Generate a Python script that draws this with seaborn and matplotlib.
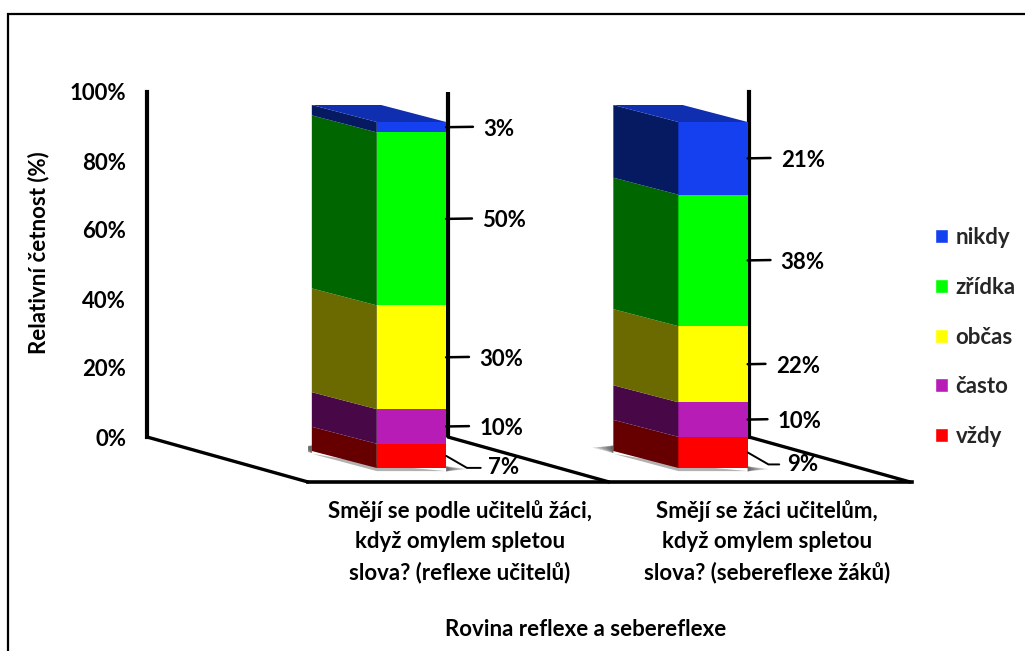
import matplotlib
matplotlib.use('Agg')
import matplotlib.pyplot as plt
import numpy as np
import pandas as pd
import seaborn as sns
from matplotlib.patches import Patch, Rectangle

questions = ['Smějí se podle učitelů žáci,\nkdyž omylem spletou\nslova? (reflexe učitelů)',
             'Smějí se žáci učitelům,\nkdyž omylem spletou\nslova? (sebereflexe žáků)']
levels = ['vždy', 'často', 'občas', 'zřídka', 'nikdy']
ucitele = [7, 10, 30, 50, 3]
zaci = [9, 10, 22, 38, 21]
y_ticks = [0, 20, 40, 60, 80, 100]
front_colors = ['#ff0000', '#b71cb7', '#ffff00', '#00ff00', '#1440f0']
side_colors = ['#660000', '#480848', '#6b6a00', '#006600', '#051a60']
top_color = '#0f2fb0'

# how far each value label sits from the bar, in pixels
label_dx = [[42, 33, 33, 36, 37], [39, 30, 28, 33, 33]]

W, H = 1025, 651
sns.set_theme(style='white')
plt.rcParams['font.family'] = ['Lato', 'DejaVu Sans']
plt.rcParams['font.weight'] = 'bold'
FS = 16


def px_axes(fig, left, top, right, bottom):
    return fig.add_axes([left / W, 1 - bottom / H, (right - left) / W, (bottom - top) / H])


fig = plt.figure(figsize=(W / 100, H / 100), dpi=100)
fig.add_artist(Rectangle((8 / W, -0.01), 1.01, 1 - 14 / H + 0.01, transform=fig.transFigure,
                         fill=False, edgecolor='black', linewidth=1.6))

# back walls, carrying the percent scale
wall = px_axes(fig, 147, 92, 749, 437)
wall.set_xlim(0, 2)
wall.set_ylim(0, 100)
wall.set_xticks([])
wall.set_yticks(y_ticks, [f'{t}%' for t in y_ticks], fontsize=FS, fontweight='bold', color='black')
wall.tick_params(axis='y', length=0, pad=15)
wall.set_ylabel('Relativní četnost (%)', fontsize=FS, fontweight='bold', color='black')
wall.yaxis.set_label_coords(-(147 - 49) / 602, 0.533)
sns.despine(ax=wall, top=True, bottom=True, left=False, right=False)
for side in ['left', 'right']:
    wall.spines[side].set_linewidth(3)
    wall.spines[side].set_color('black')
wall.axvline(1, color='black', linewidth=3)
for x0 in [0, 1, 2]:
    wall.plot([x0, x0 + 0.535], [0, -13.04], color='black', linewidth=2.4, clip_on=False)

# bars on the floor plane
ax = px_axes(fig, 308, 92, 912, 482)
ax.patch.set_alpha(0)
bar_w = 0.23
depth_x, depth_y = -65 / 301.5, 17 / 3.46

df = pd.DataFrame({'question': np.repeat(questions, len(levels)),
                   'level': levels * 2,
                   'value': ucitele + zaci})
df['top'] = df.groupby('question', sort=False)['value'].cumsum()
df['bottom'] = df['top'] - df['value']

for i in range(len(questions)):
    left = i - bar_w / 2
    right = i + bar_w / 2
    back = left + depth_x
    # soft shadow around the foot of the bar
    for grow in [0.07, 0.055, 0.04, 0.025, 0.012]:
        ax.fill([back - grow, back, back], [depth_y + 1.0, depth_y + 1.6, depth_y - 0.6],
                color='black', alpha=0.16, linewidth=0, zorder=1)
        ax.fill([right, right + grow, right], [0.5, -0.3, -1.0],
                color='black', alpha=0.16, linewidth=0, zorder=1)
    ax.fill([back, left, right, left], [depth_y - 0.8, -0.9, -0.9, 1], color='black', alpha=0.3,
            linewidth=0, zorder=1)

for lev, col in zip(reversed(levels), reversed(front_colors)):
    sns.barplot(data=df[df['level'] == lev], x='question', y='top', order=questions, color=col,
                saturation=1, width=bar_w, linewidth=0, ax=ax, zorder=3)

for i, q in enumerate(questions):
    rows = df[df['question'] == q]
    left = i - bar_w / 2
    right = i + bar_w / 2
    for b, t, col in zip(rows['bottom'], rows['top'], side_colors):
        ax.fill([left, left + depth_x, left + depth_x, left], [b, b + depth_y, t + depth_y, t],
                color=col, linewidth=0, zorder=3)
    t = rows['top'].iloc[-1]
    ax.fill([left, left + depth_x, right + depth_x, right], [t, t + depth_y, t + depth_y, t],
            color=top_color, linewidth=0, zorder=3)

    # value labels with leader lines
    for j, (b, v) in enumerate(zip(rows['bottom'], rows['value'])):
        mid = b + v / 2
        if j == 0:
            ax.annotate(f'{v}%', xy=(right, mid), xytext=(label_dx[i][j], -12), textcoords='offset pixels',
                        fontsize=FS, fontweight='bold', va='center', ha='left', color='black',
                        arrowprops=dict(arrowstyle='-', color='black', linewidth=1.4, shrinkA=3, shrinkB=0,
                                        relpos=(0, 0.5),
                                        connectionstyle='angle,angleA=0,angleB=-30,rad=0'), zorder=5)
        else:
            ax.annotate(f'{v}%', xy=(right, mid), xytext=(label_dx[i][j], -2), textcoords='offset pixels',
                        fontsize=FS, fontweight='bold', va='center', ha='left', color='black',
                        arrowprops=dict(arrowstyle='-', color='black', linewidth=1.8, shrinkA=5, shrinkB=0,
                                        relpos=(0, 0.62)),
                        zorder=5)

ax.set_xlim((308 - 411.5) / 301.5, (912 - 411.5) / 301.5)
ax.set_ylim(-(482 - 468) / 3.46, (468 - 92) / 3.46)
ax.set_yticks([])
ax.set_ylabel('')
ax.set_xticks([0.16, 1.18], questions, fontsize=FS, fontweight='bold', color='black', linespacing=1.55)
ax.tick_params(axis='x', length=0, pad=13)
ax.set_xlabel('Rovina reflexe a sebereflexe', fontsize=FS, fontweight='bold', color='black')
ax.xaxis.set_label_coords((586 - 308) / 604, -(619 - 482) / 390, transform=ax.transAxes)
sns.despine(ax=ax, left=True, right=True, top=True)
ax.spines['bottom'].set_linewidth(2.6)
ax.spines['bottom'].set_color('black')

handles = [Patch(facecolor=c, label=l) for c, l in zip(reversed(front_colors), reversed(levels))]
fig.legend(handles=handles, loc='center left', bbox_to_anchor=(935 / W, 1 - 337 / H), frameon=False,
           labelspacing=1.29, handlelength=0.6, handleheight=0.6, handletextpad=0.32,
           borderpad=0, borderaxespad=0, prop={'weight': 'bold', 'size': FS})

fig.savefig('out.png', dpi=100)
